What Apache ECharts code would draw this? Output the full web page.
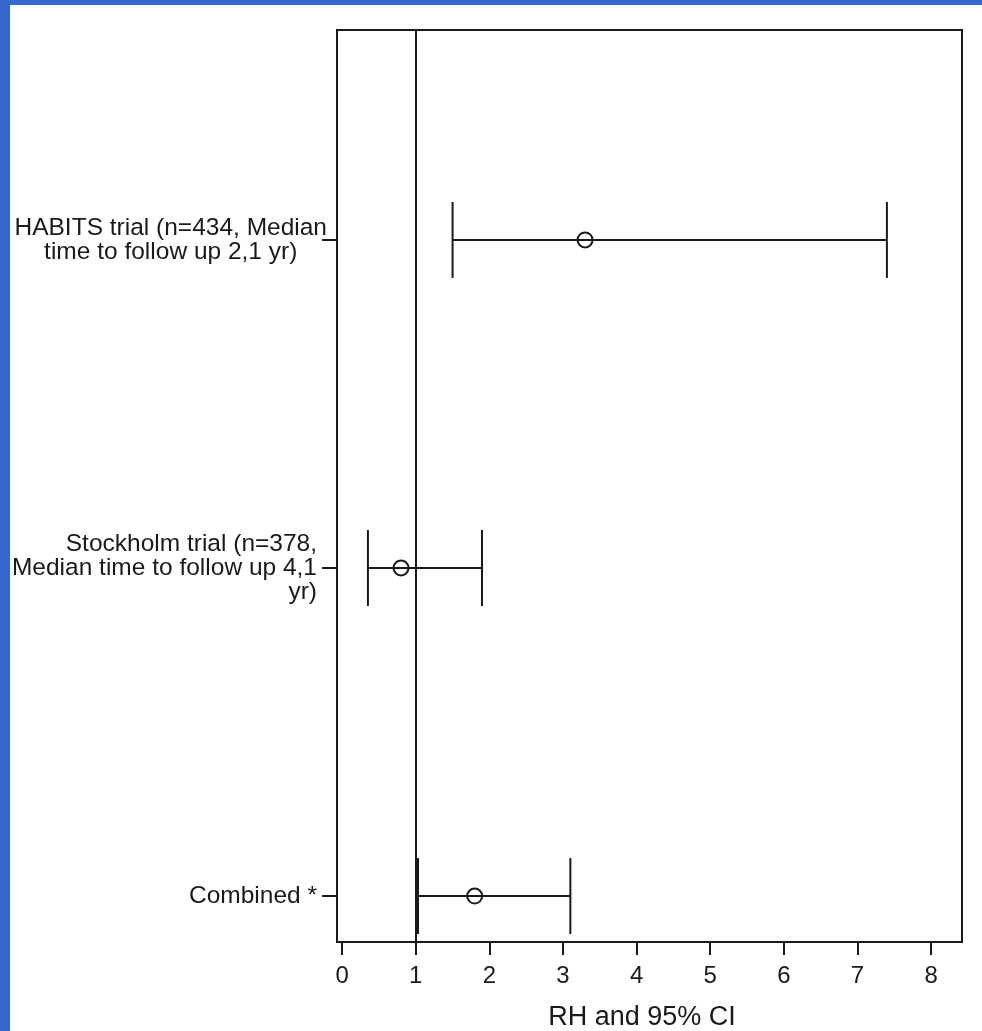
<!DOCTYPE html>
<html>
<head>
<meta charset="utf-8">
<script src="https://cdn.jsdelivr.net/npm/echarts@6/dist/echarts.min.js"></script>
<style>
  html, body { margin: 0; padding: 0; background: #3468CD; width: 982px; height: 1031px; overflow: hidden; }
  #chart { position: absolute; left: 10px; top: 5px; width: 972px; height: 1026px; background: #ffffff; }
</style>
</head>
<body>
<div id="chart"></div>
<script>
// Data
const studies = [
  'Combined *',
  'Stockholm trial (n=378,\nMedian time to follow up 4,1\nyr)',
  'HABITS trial (n=434, Median\ntime to follow up 2,1 yr)'
];
const studyPos = [0, 1, 2];
const estimates = [1.8, 0.8, 3.3];
const lowerCI = [1.03, 0.35, 1.5];
const upperCI = [3.1, 1.9, 7.4];
const xTicks = [0, 1, 2, 3, 4, 5, 6, 7, 8];
const refLine = 1;

const ink = '#1a1a1a';
const font = 'Liberation Sans, Arial, sans-serif';

const seriesData = studyPos.map((p, i) => [lowerCI[i], estimates[i], upperCI[i], p]);

function labelFor(v) {
  const idx = studyPos.indexOf(Math.round(v));
  if (idx < 0) return '';
  const lines = studies[idx].split('\n');
  if (idx === 2) {
    return lines.map(l => '{c|' + l + '}').join('\n');
  }
  return lines.map(l => '{r|' + l + '}').join('\n');
}

const chart = echarts.init(document.getElementById('chart'));
chart.setOption({
  animation: false,
  backgroundColor: '#ffffff',
  grid: {
    left: 327, top: 25, right: 20, bottom: 89,
    containLabel: false,
    outerBoundsMode: 'none',
    show: true, borderColor: ink, borderWidth: 2, backgroundColor: 'transparent'
  },
  xAxis: {
    type: 'value',
    min: -0.07, max: 8.42,
    name: 'RH and 95% CI',
    nameLocation: 'middle',
    nameGap: 62,
    nameTextStyle: { fontFamily: font, fontSize: 27, color: ink, padding: [0, 15, 0, 0] },
    axisLine: { show: true, onZero: false, lineStyle: { color: ink, width: 2 } },
    axisTick: { show: true, customValues: xTicks, length: 13, lineStyle: { color: ink, width: 2 } },
    axisLabel: { customValues: xTicks, fontFamily: font, fontSize: 24, color: ink, margin: 22 },
    splitLine: { show: false }
  },
  yAxis: {
    type: 'value',
    min: -0.14, max: 2.64,
    axisLine: { show: true, onZero: false, lineStyle: { color: ink, width: 2 } },
    axisTick: { show: true, customValues: studyPos, length: 15, lineStyle: { color: ink, width: 2 } },
    axisLabel: {
      customValues: studyPos,
      margin: 10,
      formatter: labelFor,
      fontFamily: font, fontSize: 24.5, color: ink, lineHeight: 24,
      rich: {
        c: { align: 'center', fontFamily: font, fontSize: 24.5, color: ink, lineHeight: 24 },
        r: { align: 'right', fontFamily: font, fontSize: 24.5, color: ink, lineHeight: 24, padding: [0, 10, 0, 0] }
      }
    },
    splitLine: { show: false }
  },
  series: [{
    type: 'custom',
    data: seriesData,
    encode: { x: [0, 1, 2], y: 3 },
    renderItem: function (params, api) {
      const y = api.value(3);
      const lo = api.coord([api.value(0), y]);
      const est = api.coord([api.value(1), y]);
      const hi = api.coord([api.value(2), y]);
      const h = 38;
      const st = { stroke: ink, lineWidth: 2, fill: null };
      return {
        type: 'group',
        children: [
          { type: 'line', shape: { x1: lo[0], y1: lo[1], x2: hi[0], y2: hi[1] }, style: st },
          { type: 'line', shape: { x1: lo[0], y1: lo[1] - h, x2: lo[0], y2: lo[1] + h }, style: st },
          { type: 'line', shape: { x1: hi[0], y1: hi[1] - h, x2: hi[0], y2: hi[1] + h }, style: st },
          { type: 'circle', shape: { cx: est[0], cy: est[1], r: 7.5 }, style: { stroke: ink, lineWidth: 2, fill: 'transparent' } }
        ]
      };
    },
    markLine: {
      silent: true,
      symbol: ['none', 'none'],
      label: { show: false },
      lineStyle: { color: ink, width: 2, type: 'solid' },
      data: [{ xAxis: refLine }]
    }
  }]
});
</script>
</body>
</html>
